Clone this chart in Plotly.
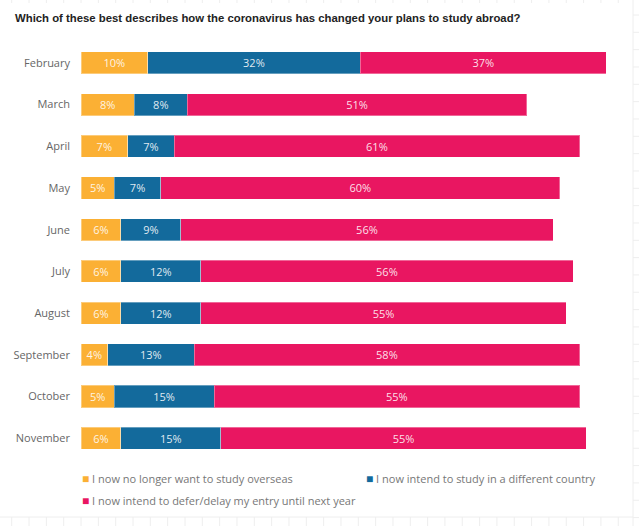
import plotly.graph_objects as go

months = ["February", "March", "April", "May", "June", "July", "August",
          "September", "October", "November"]
no_longer = [10, 8, 7, 5, 6, 6, 6, 4, 5, 6]
different_country = [32, 8, 7, 7, 9, 12, 12, 13, 15, 15]
defer = [37, 51, 61, 60, 56, 56, 55, 58, 55, 55]

series_names = ["I now no longer want to study overseas",
                "I now intend to study in a different country",
                "I now intend to defer/delay my entry until next year"]
series_colors = ["#FBB034", "#136A9C", "#E91661"]
series_values = [no_longer, different_country, defer]

title_text = "Which of these best describes how the coronavirus has changed your plans to study abroad?"

W, H = 639, 526
ML, MR, MT, MB = 81, 26, 42, 67
PW, PH = W - ML - MR, H - MT - MB

def px_x(p):
    return (p - ML) / PW

def px_y(p):
    return (H - MB - p) / PH

fig = go.Figure()
for name, color, vals in zip(series_names, series_colors, series_values):
    fig.add_trace(go.Bar(
        y=months, x=vals, orientation="h", name=name,
        marker=dict(color=color, line=dict(color="rgba(255,255,255,0.35)", width=1)),
        text=[f"{v}%" for v in vals], textposition="inside",
        insidetextanchor="middle", textangle=0,
        textfont=dict(family="Open Sans", size=11, color="rgba(255,255,255,0.88)"),
        hoverinfo="skip", showlegend=False,
    ))

# legend built as annotations (colored square + label)
legend_pos = [(px_x(80), px_y(478)), (px_x(364), px_y(478)), (px_x(80), px_y(500))]
for (lx, ly), name, color in zip(legend_pos, series_names, series_colors):
    fig.add_annotation(
        xref="paper", yref="paper", x=lx, y=ly, xanchor="left", yanchor="middle",
        showarrow=False,
        text=f"<span style='color:{color};font-size:12px'>■</span> {name}",
        font=dict(family="Open Sans", size=11, color="#777777"),
    )

# faint page grid visible around the edge of the screenshot
grid_color = "#eeeeee"
fig.add_shape(type="line", xref="paper", yref="paper", x0=px_x(633), x1=px_x(633),
              y0=px_y(0), y1=px_y(526), line=dict(color=grid_color, width=1))
fig.add_shape(type="line", xref="paper", yref="paper", x0=px_x(0), x1=px_x(633),
              y0=px_y(517), y1=px_y(517), line=dict(color=grid_color, width=1))
step = 17.33
for i in range(37):
    gx = 11.7 + i * step
    if gx < 633:
        fig.add_shape(type="line", xref="paper", yref="paper", x0=px_x(gx), x1=px_x(gx),
                      y0=px_y(517), y1=px_y(526), line=dict(color=grid_color, width=1))
        fig.add_shape(type="line", xref="paper", yref="paper", x0=px_x(gx), x1=px_x(gx),
                      y0=px_y(0), y1=px_y(3), line=dict(color=grid_color, width=1))
for i in range(31):
    gy = 15 + i * step
    if gy < 526:
        fig.add_shape(type="line", xref="paper", yref="paper", x0=px_x(633), x1=px_x(639),
                      y0=px_y(gy), y1=px_y(gy), line=dict(color=grid_color, width=1))

fig.update_layout(
    width=W, height=H,
    margin=dict(l=ML, r=MR, t=MT, b=MB, autoexpand=False),
    barmode="stack", bargap=0.47,
    paper_bgcolor="white", plot_bgcolor="white",
    title=dict(text=f"<b>{title_text}</b>", x=15 / W, xref="container", xanchor="left",
               y=1 - 18 / H, yanchor="middle",
               font=dict(family="Liberation Sans, Arial, sans-serif", size=11.35, color="#222222"),
               pad=dict(l=0)),
    xaxis=dict(range=[0, 80], visible=False, fixedrange=True, automargin=False),
    yaxis=dict(categoryorder="array", categoryarray=months, autorange="reversed",
               showgrid=False, zeroline=False, showline=False, ticks="",
               ticklabelstandoff=10, automargin=False, fixedrange=True,
               tickfont=dict(family="Open Sans", size=11, color="#666666")),
    uniformtext=dict(minsize=11, mode="show"),
    showlegend=False,
    hovermode=False,
)

fig.write_html("out.html", config={"displayModeBar": False, "staticPlot": True},
               post_script="document.body.style.margin='0';document.body.style.overflow='hidden';")
